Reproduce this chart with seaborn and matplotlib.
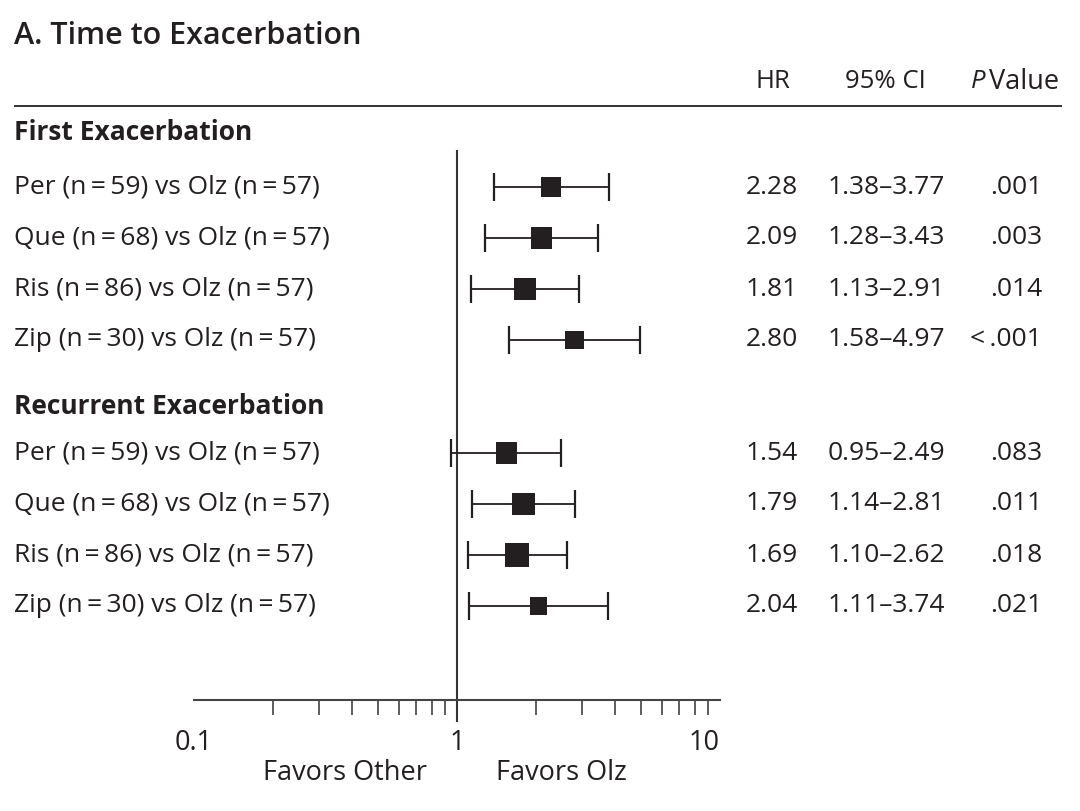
import numpy as np
import pandas as pd
import seaborn as sns
import matplotlib.pyplot as plt
from matplotlib.ticker import FixedLocator, FixedFormatter, NullFormatter, LogLocator

# Data
drugs = ['Per', 'Que', 'Ris', 'Zip']
n_other = [59, 68, 86, 30]
n_olz = 57

first_hr = [2.28, 2.09, 1.81, 2.80]
first_lo = [1.38, 1.28, 1.13, 1.58]
first_hi = [3.77, 3.43, 2.91, 4.97]
first_p = ['.001', '.003', '.014', '<\u2009.001']

rec_hr = [1.54, 1.79, 1.69, 2.04]
rec_lo = [0.95, 1.14, 1.10, 1.11]
rec_hi = [2.49, 2.81, 2.62, 3.74]
rec_p = ['.083', '.011', '.018', '.021']

groups = ['First Exacerbation', 'Recurrent Exacerbation']
x_ticks = [0.1, 1, 10]
x_tick_labels = ['0.1', '1', '10']

sns.set_theme(style='white')
plt.rcParams['font.family'] = ['Open Sans', 'DejaVu Sans']
ink = '#231f20'

# layout (pixel rows, figure is 1080 x 811 at dpi 100)
W, H = 1080, 811
head_y = [133, 407]
first_row_y = [187, 453]
row_step = 51
fs = 19

labels = [f'{d} (n\u2009=\u2009{n}) vs Olz (n\u2009=\u2009{n_olz})' for d, n in zip(drugs, n_other)]
rows = []
for g, (hr, lo, hi, p) in enumerate([(first_hr, first_lo, first_hi, first_p),
                                     (rec_hr, rec_lo, rec_hi, rec_p)]):
    for i in range(len(drugs)):
        rows.append({'group': groups[g], 'label': labels[i], 'hr': hr[i], 'lo': lo[i],
                     'hi': hi[i], 'p': p[i], 'y': first_row_y[g] + i * row_step})
df = pd.DataFrame(rows)
df['ci'] = df['lo'].map('{:.2f}'.format) + '\u2013' + df['hi'].map('{:.2f}'.format)
df['precision'] = 1 / np.log(df['hi'] / df['lo']) ** 2

fig = plt.figure(figsize=(W / 100, H / 100), dpi=100)

# text layer in pixel coordinates
tax = fig.add_axes([0, 0, 1, 1])
tax.set_xlim(0, W)
tax.set_ylim(H, 0)
tax.axis('off')

# forest axes: 0.1..10 spans x = 194..720 px
fax = fig.add_axes([194 / W, 0, 526 / W, 1])
fax.patch.set_alpha(0)
fax.set_xscale('log')
fax.set_xlim(0.1, 10)
fax.set_ylim(H, 0)

fax.errorbar(df['hr'], df['y'], xerr=[df['hr'] - df['lo'], df['hi'] - df['hr']],
             fmt='none', ecolor=ink, elinewidth=1.3, capsize=10, capthick=1.6, zorder=2)
sns.scatterplot(data=df, x='hr', y='y', size='precision', sizes=(160, 290),
                size_norm=(0.67, 1.34), marker='s', color=ink, linewidth=0,
                legend=False, ax=fax, zorder=3)
fax.vlines(1, 150, 722, color='#333333', lw=1.5, zorder=1)

for s in ['top', 'right', 'left']:
    fax.spines[s].set_visible(False)
fax.spines['bottom'].set_position(('data', 700))
fax.spines['bottom'].set_color('#444444')
fax.spines['bottom'].set_linewidth(1.5)
fax.xaxis.set_major_locator(FixedLocator(x_ticks))
fax.xaxis.set_major_formatter(FixedFormatter(x_tick_labels))
fax.xaxis.set_minor_locator(LogLocator(base=10, subs=np.arange(2, 10)))
fax.xaxis.set_minor_formatter(NullFormatter())
fax.tick_params(axis='x', which='major', length=0, pad=21, labelsize=19.5, labelcolor=ink)
fax.tick_params(axis='x', which='minor', length=10.8, width=1.1, color='#333333',
                direction='out', bottom=True)
fax.set_yticks([])
fax.set_xlabel('')
fax.set_ylabel('')
tl = fax.get_xticklabels()
tl[-1].set_horizontalalignment('right')
tl[0].set_horizontalalignment('center')

# title, header and rule
tax.text(14, 36, 'A. Time to Exacerbation', fontsize=22, fontweight='semibold',
         color=ink, ha='left', va='center')
hdr_kw = dict(fontsize=18.5, color=ink, va='center')
tax.text(773, 82, 'HR', ha='center', **hdr_kw)
tax.text(885, 82, '95% CI', ha='center', **hdr_kw)
tax.text(986, 82, 'P', ha='right', style='italic', **hdr_kw)
tax.text(989, 82, 'Value', ha='left', fontsize=19.5, color=ink, va='center')
tax.hlines(106, 14, 1062, color='#333333', lw=1.4)

for g in range(2):
    tax.text(14, head_y[g], groups[g], fontsize=fs, fontweight='bold', color=ink,
             ha='left', va='center')

row_kw = dict(fontsize=fs, color=ink, va='center')
for _, r in df.iterrows():
    tax.text(14, r['y'], r['label'], ha='left', **row_kw)
    tax.text(798, r['y'], f"{r['hr']:.2f}", ha='right', **row_kw)
    tax.text(886, r['y'], r['ci'], ha='center', **row_kw)
    tax.text(1042, r['y'], r['p'], ha='right', **row_kw)

tax.text(427, 773, 'Favors Other', fontsize=19.5, color=ink, ha='right', va='center')
tax.text(496, 773, 'Favors Olz', fontsize=19.5, color=ink, ha='left', va='center')

fig.savefig('out.png', dpi=100, facecolor='white')
